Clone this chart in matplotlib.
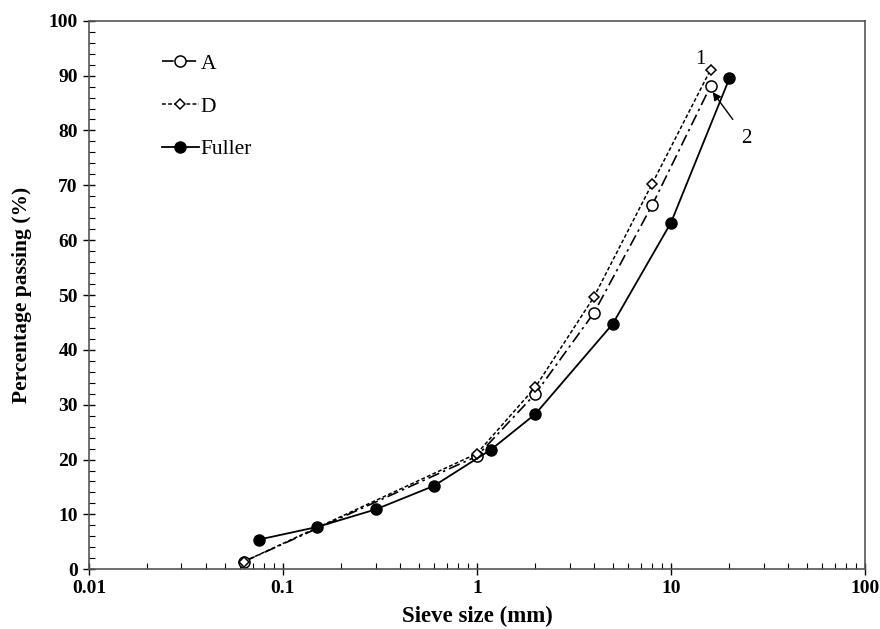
import matplotlib
matplotlib.use("Agg")
import matplotlib.pyplot as plt
from matplotlib.ticker import MultipleLocator, LogLocator, NullFormatter

plt.rcParams['font.family'] = ['Liberation Serif', 'DejaVu Serif']

# sieve sizes (mm) and percentage passing
sieve_ad = [0.063, 1, 2, 4, 8, 16]
pass_a = [1.4, 20.6, 32.0, 46.7, 66.4, 88.1]
pass_d = [1.4, 21.1, 33.2, 49.6, 70.3, 91.1]

sieve_fuller = [0.075, 0.15, 0.3, 0.6, 1.18, 2, 5, 10, 20]
pass_fuller = [5.4, 7.7, 10.9, 15.2, 21.8, 28.3, 44.7, 63.2, 89.5]

fig = plt.figure(figsize=(8.8, 6.29), dpi=100)
ax = fig.add_axes([0.101, 0.095, 0.882, 0.872])

ax.plot(sieve_ad, pass_a, color='black', lw=1.2, ls=(0, (7, 2.5, 1.5, 2.5)),
        marker='o', ms=8, mfc='white', mec='black', mew=1.1, label='A')
ax.plot(sieve_ad, pass_d, color='black', lw=1.1, ls=(0, (2.5, 1.5)),
        marker='D', ms=5.5, mfc='white', mec='black', mew=1.1, label='D')
ax.plot(sieve_fuller, pass_fuller, color='black', lw=1.3, ls='-',
        marker='o', ms=8, mfc='black', mec='black', label='Fuller')

ax.set_xscale('log')
ax.set_xlim(0.01, 100)
ax.set_ylim(0, 100)
ax.yaxis.set_major_locator(MultipleLocator(10))
ax.yaxis.set_minor_locator(MultipleLocator(2))
ax.xaxis.set_minor_locator(LogLocator(base=10, subs=range(2, 10)))
ax.xaxis.set_minor_formatter(NullFormatter())
ax.set_xticks([0.01, 0.1, 1, 10, 100])
ax.set_xticklabels(['0.01', '0.1', '1', '10', '100'])

ax.tick_params(which='major', direction='inout', length=8, width=1, labelsize=14, pad=4)
ax.tick_params(which='minor', direction='in', length=4, width=0.8)
for lab in ax.get_xticklabels() + ax.get_yticklabels():
    lab.set_fontweight('bold')
for s in ax.spines.values():
    s.set_color('#555555')
    s.set_linewidth(1.2)

ax.set_xlabel('Sieve size (mm)', fontsize=16.5, fontweight='bold', labelpad=6)
ax.set_ylabel('Percentage passing (%)', fontsize=15.5, fontweight='bold', labelpad=12)

leg = ax.legend(loc='upper left', bbox_to_anchor=(0.075, 0.967), frameon=False,
                fontsize=15.5, handlelength=1.7, handletextpad=0.1, labelspacing=1.05,
                borderaxespad=0.3)

ax.text(14.2, 93.0, '1', fontsize=15, ha='center', va='center')
ax.annotate('2', xy=(16.4, 87.0), xytext=(24.5, 78.6), fontsize=15,
            ha='center', va='center',
            arrowprops=dict(arrowstyle='-|>', color='black', lw=1,
                            shrinkA=7, shrinkB=0, mutation_scale=12))

fig.savefig('out.png', dpi=100)
